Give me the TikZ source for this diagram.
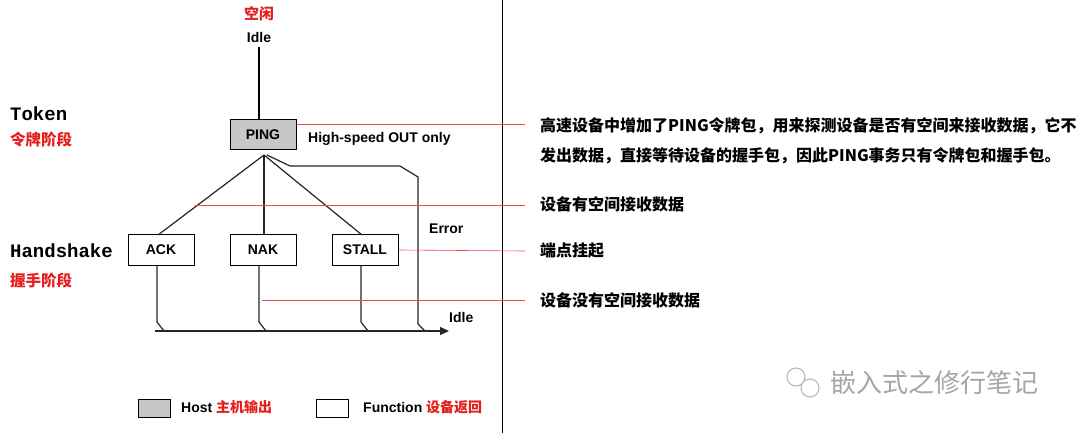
\documentclass[tikz,border=0pt]{standalone}
\usepackage{fontspec}
\setmainfont{Liberation Sans}
\newfontfamily\cjk{Noto Sans CJK SC}
\newfontfamily\mono{Liberation Mono}
\usetikzlibrary{arrows.meta}
\definecolor{rd}{RGB}{230,30,30}
\begin{document}
\begin{tikzpicture}[x=1pt,y=-1pt,
  box/.style={draw,line width=1pt,minimum width=66pt,minimum height=30pt,inner sep=0pt,font=\bfseries\fontsize{14}{14}\selectfont},
  ln/.style={line width=1.2pt,black!85},
  rl/.style={rd!80,line width=0.6pt},
  rt/.style={anchor=west,inner sep=0pt,font=\cjk\bfseries\fontsize{16}{16}\selectfont},
  lbl/.style={font=\bfseries\fontsize{14}{14}\selectfont}]
\useasboundingbox (0,0) rectangle (1080,433);
\fill[white] (0,0) rectangle (1080,433);
\draw[line width=1pt] (502,0) -- (502,433);
\node[text=rd,font=\cjk\bfseries\fontsize{15}{15}\selectfont] (kx) at (259,14) {空闲};
\node[lbl] (idle1) at (259,37) {Idle};
\node[box,fill=black!22] (ping) at (263,134.5) {PING};
\node[box] (ack) at (161,250) {ACK};
\node[box] (nak) at (263,250) {\raisebox{-4pt}{NAK}};
\node[box] (stall) at (365,250) {STALL};
\coordinate (top) at (259,47);
\draw[line width=1.6pt] (top) -- (ping.north -| top);
\node[lbl,anchor=west,inner sep=0pt] (hs) at (308,139) {High-speed OUT only};
\node[lbl,anchor=west,inner sep=0pt] (err) at (429,229) {Error};
\node[lbl,anchor=west,inner sep=0pt] (idle2) at (449,317) {Idle};
\node[font=\mono\bfseries\fontsize{19}{19}\selectfont,anchor=west,inner sep=0pt] (tok) at (10,114) {Token};
\node[font=\mono\bfseries\fontsize{19}{19}\selectfont,anchor=west,inner sep=0pt] (hand) at (10,251) {Handshake};
\node[text=rd,font=\cjk\bfseries\fontsize{15.5}{15.5}\selectfont,anchor=west,inner sep=0pt] (t1) at (10,140) {令牌阶段};
\node[text=rd,font=\cjk\bfseries\fontsize{15.5}{15.5}\selectfont,anchor=west,inner sep=0pt] (t2) at (10,281) {握手阶段};
\coordinate (pb) at (264,155);
\draw[ln] (pb) -- (158,235);
\draw[ln] (pb) -- (264,235);
\draw[ln] (pb) -- (362,235);
\draw[ln] (267,155) -- (290,166) -- (400,166) -- (418,177) -- (418,324) -- (425,331);
\foreach \x in {157,259,361}{\draw[ln] (\x,265) -- (\x,322) -- (\x+7,331);}
\coordinate (bl) at (155,331);
\coordinate (br) at (449,331);
\draw[ln,-{Triangle[length=9pt,width=8pt]}] (bl) -- (br);
% red connectors
\coordinate (r1) at (525,124);\coordinate (r2) at (525,205);\coordinate (r3) at (525,251);\coordinate (r4) at (525,300);
\draw[rl] (ping.east |- r1) -- (r1);
\draw[rl] (195,205) -- (r2);
\draw[rl] (stall.east) -- (r3);
\draw[rl] (262,300) -- (r4);
\node[rt] (a1) at (540,126) {高速设备中增加了PING令牌包，用来探测设备是否有空间来接收数据，它不};
\node[rt] (a2) at (540,156) {发出数据，直接等待设备的握手包，因此PING事务只有令牌包和握手包。};
\node[rt] (a3) at (540,204) {设备有空间接收数据};
\node[rt] (a4) at (540,251) {端点挂起};
\node[rt] (a5) at (540,300) {设备没有空间接收数据};
% legend
\node[draw,line width=0.8pt,fill=black!22,minimum width=32pt,minimum height=18pt,inner sep=0pt] (lg1) at (154,408) {};
\node[lbl,anchor=west,inner sep=0pt] (lh) at (181,407) {Host \textcolor{rd}{\cjk 主机输出}};
\node[draw,line width=0.8pt,minimum width=32pt,minimum height=18pt,inner sep=0pt] (lg2) at (332,408) {};
\node[lbl,anchor=west,inner sep=0pt] (lf) at (363,407) {Function \textcolor{rd}{\cjk 设备返回}};
% watermark
\node[text=black!35,font=\cjk\fontsize{26}{26}\selectfont,anchor=west,inner sep=0pt] (wm) at (830,383) {嵌入式之修行笔记};
\draw[black!30,line width=1pt] (796,377) circle (9) (810,388) circle (9);
\end{tikzpicture}
\end{document}
